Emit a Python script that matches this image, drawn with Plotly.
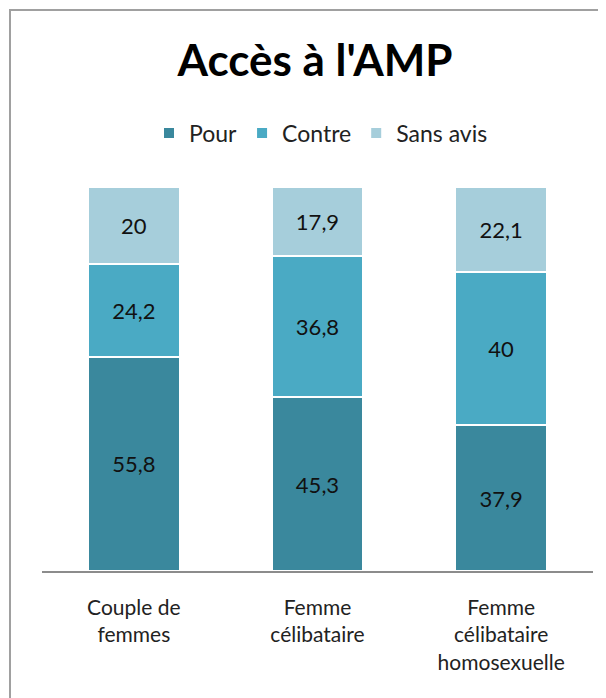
import plotly.graph_objects as go

categories = ["Couple de<br>femmes", "Femme<br>célibataire", "Femme<br>célibataire<br>homosexuelle"]
pour = [55.8, 45.3, 37.9]
contre = [24.2, 36.8, 40.0]
sans_avis = [20.0, 17.9, 22.1]
series_names = ["Pour", "Contre", "Sans avis"]
colors = ["#3A889D", "#4AAAC4", "#A6CEDB"]

# page body has an 8px margin; positions below are in figure coordinates
W, H = 606, 698
ml, mr, mt, mb = 34, 21, 179, 135
pw, ph = W - ml - mr, H - mt - mb

def fmt(v):
    return f"{v:g}".replace(".", ",")

fig = go.Figure()
for name, vals, col in zip(series_names, [pour, contre, sans_avis], colors):
    fig.add_trace(go.Bar(
        x=categories, y=vals, name=name,
        marker=dict(color=col, line=dict(color="white", width=2)),
        text=[fmt(v) for v in vals],
        textposition="inside", insidetextanchor="middle",
        textfont=dict(color="#111111", size=22, family="Lato"),
        width=0.5,
    ))

fig.update_layout(
    width=W, height=H,
    margin=dict(l=ml, r=mr, t=mt, b=mb),
    barmode="stack",
    bargap=0.5,
    paper_bgcolor="white", plot_bgcolor="white",
    font=dict(family="Lato", color="#222222"),
    title=dict(text="<b>Accès à l'AMP</b>", x=307 / W, xanchor="center",
               y=1 - 53 / H, yanchor="middle", yref="container",
               font=dict(size=44, family="Lato", color="black")),
    legend=dict(orientation="h", x=(313 - ml) / pw, xanchor="center",
                y=1 + (mt - 125) / ph, yanchor="middle",
                font=dict(size=23, family="Lato", color="#222222"),
                traceorder="normal", itemwidth=30),
    showlegend=True,
)
fig.update_xaxes(showline=True, linecolor="#8c8c8c", linewidth=1.5, ticks="",
                 tickfont=dict(size=21, family="Lato", color="#222222"),
                 ticklabelstandoff=17, showgrid=False)
fig.update_yaxes(range=[0, 100], visible=False, showgrid=False)

fig.add_shape(type="rect", xref="paper", yref="paper",
              x0=(2 - ml) / pw, x1=(W + 20 - ml) / pw,
              y0=-(H + 20 - mt - ph) / ph, y1=1 + (mt - 2) / ph,
              line=dict(color="#a0a0a0", width=2), fillcolor="rgba(0,0,0,0)", layer="below")

fig.write_html("out.html")
